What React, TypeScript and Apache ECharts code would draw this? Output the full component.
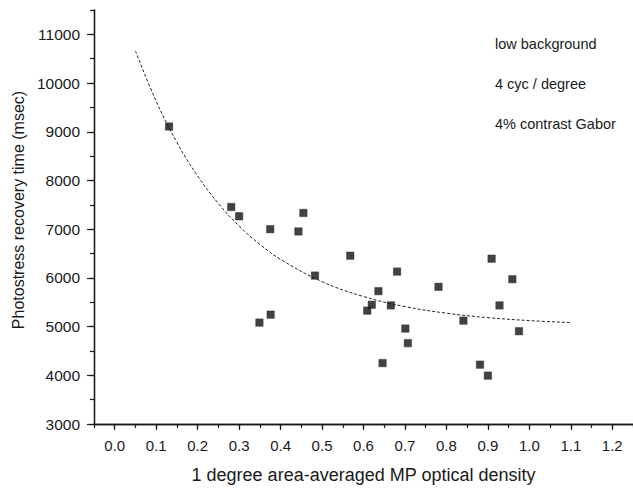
import React, { useEffect, useRef } from 'react';
import * as echarts from 'echarts';

// Scatter data: MP optical density vs photostress recovery time (msec)
const mpDensity = [0.131, 0.281, 0.300, 0.375, 0.443, 0.455, 0.349, 0.376, 0.483, 0.568, 0.681, 0.636, 0.620, 0.609, 0.666, 0.701, 0.707, 0.646, 0.781, 0.841, 0.909, 0.959, 0.928, 0.975, 0.881, 0.900];
const recoveryMs = [9108, 7455, 7265, 7000, 6953, 7333, 5082, 5245, 6047, 6455, 6129, 5728, 5449, 5327, 5435, 4959, 4660, 4251, 5816, 5122, 6394, 5973, 5435, 4905, 4218, 3993];

// Fitted curve
const fitX = [0.05, 0.1, 0.15, 0.2, 0.25, 0.3, 0.35, 0.4, 0.5, 0.6, 0.7, 0.8, 0.9, 1.0, 1.1];
const fitY = [10660, 9627, 8781, 8092, 7528, 7065, 6689, 6380, 5923, 5617, 5411, 5275, 5184, 5123, 5082];

// Ticks
const xMajorTicks = [0, 0.1, 0.2, 0.3, 0.4, 0.5, 0.6, 0.7, 0.8, 0.9, 1.0, 1.1, 1.2];
const xMinorTicks = [-0.05, 0, 0.05, 0.1, 0.15, 0.2, 0.25, 0.3, 0.35, 0.4, 0.45, 0.5, 0.55, 0.6, 0.65, 0.7, 0.75, 0.8, 0.85, 0.9, 0.95, 1.0, 1.05, 1.1, 1.15, 1.2, 1.25];
const yMajorTicks = [3000, 4000, 5000, 6000, 7000, 8000, 9000, 10000, 11000];
const yMinorTicks = [3000, 3500, 4000, 4500, 5000, 5500, 6000, 6500, 7000, 7500, 8000, 8500, 9000, 9500, 10000, 10500, 11000, 11500];

const notes = ['low background', '4 cyc / degree', '4% contrast Gabor'];

const xTitle = '1 degree area-averaged MP optical density';
const yTitle = 'Photostress recovery time (msec)';

const INK = '#1a1a1a';
const FONT = '"Liberation Sans", Arial, Helvetica, sans-serif';

export default function App() {
  const ref = useRef<HTMLDivElement>(null);
  useEffect(() => {
    if (!ref.current) return;
    const chart = echarts.init(ref.current, undefined, { renderer: 'svg' });
    const axisLine = { show: true, onZero: false, lineStyle: { color: INK, width: 1.3 } };
    const tickStyle = { color: INK, width: 1.2 };
    chart.setOption({
      animation: false,
      backgroundColor: '#ffffff',
      textStyle: { fontFamily: FONT },
      grid: { left: 94, top: 10, right: -4, bottom: 62, containLabel: false },
      xAxis: [
        {
          type: 'value', min: -0.05, max: 1.25, position: 'bottom',
          axisLine,
          axisTick: { show: true, customValues: xMinorTicks, length: 4, lineStyle: tickStyle },
          axisLabel: { show: false },
          splitLine: { show: false },
        },
        {
          type: 'value', min: -0.05, max: 1.25, position: 'bottom',
          axisLine,
          axisTick: { show: true, customValues: xMajorTicks, length: 6, lineStyle: tickStyle },
          axisLabel: {
            show: true, customValues: xMajorTicks, margin: 14, fontSize: 15, color: INK, fontFamily: FONT,
            formatter: (v: number) => v.toFixed(1),
          },
          splitLine: { show: false },
          name: xTitle, nameLocation: 'middle', nameGap: 42,
          nameTextStyle: { fontSize: 18, color: INK, fontFamily: FONT },
        },
      ],
      yAxis: [
        {
          type: 'value', min: 3000, max: 11500, position: 'left',
          axisLine,
          axisTick: { show: true, customValues: yMinorTicks, length: 4, lineStyle: tickStyle },
          axisLabel: { show: false },
          splitLine: { show: false },
        },
        {
          type: 'value', min: 3000, max: 11500, position: 'left',
          axisLine,
          axisTick: { show: true, customValues: yMajorTicks, length: 7, lineStyle: tickStyle },
          axisLabel: {
            show: true, customValues: yMajorTicks, margin: 14, fontSize: 15.5, color: INK, fontFamily: FONT,
            formatter: (v: number) => String(v),
          },
          splitLine: { show: false },
        },
      ],
      series: [
        {
          type: 'line',
          xAxisIndex: 0, yAxisIndex: 0,
          data: fitX.map((x, i) => [x, fitY[i]]),
          smooth: 0.4,
          showSymbol: false,
          symbol: 'none',
          lineStyle: { color: '#222', width: 1, type: [3, 2] },
          z: 2,
        },
        {
          type: 'scatter',
          xAxisIndex: 0, yAxisIndex: 0,
          data: mpDensity.map((x, i) => [x, recoveryMs[i]]),
          symbol: 'rect',
          symbolSize: 7.5,
          itemStyle: { color: '#111111', borderColor: '#333', borderWidth: 0.5 },
          z: 3,
        },
      ],
      graphic: [
        ...notes.map((t, i) => ({
          type: 'text',
          left: 495,
          top: 44 + i * 40 - 8,
          style: { text: t, fontSize: 14.5, fill: INK, fontFamily: FONT },
        })),
        {
          type: 'text',
          x: 18, y: 210,
          rotation: Math.PI / 2,
          style: { text: yTitle, fontSize: 16, fill: INK, fontFamily: FONT, align: 'center', verticalAlign: 'middle' },
        },
      ],
    });
    return () => chart.dispose();
  }, []);
  return <div ref={ref} style={{ position: 'fixed', left: 0, top: 0, width: 633, height: 489 }} />;
}
